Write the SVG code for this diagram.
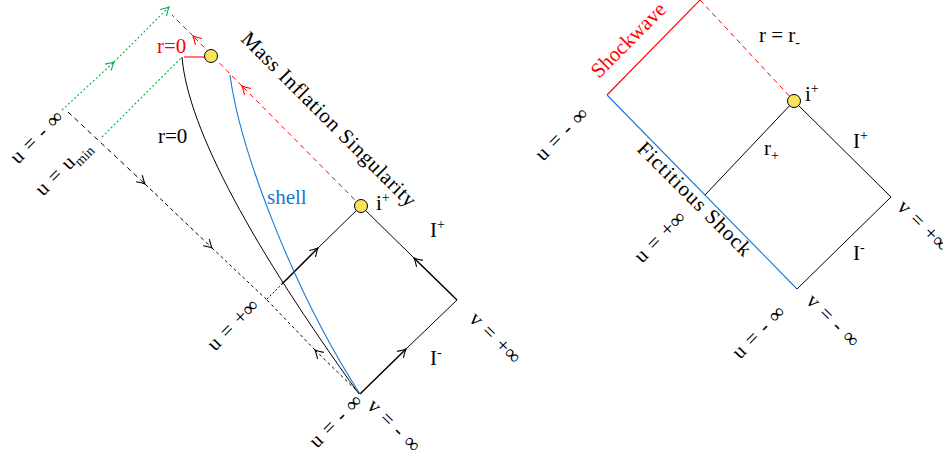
<svg xmlns="http://www.w3.org/2000/svg" width="943" height="455" viewBox="0 0 943 455">
<style>
text{font-family:"Liberation Serif","Times New Roman",serif;font-size:21px;fill:#000}
.red{fill:#ff0000}
.blue{fill:#1a78d2}
.ln{fill:none;stroke:#000;stroke-width:1}
.thick{fill:none;stroke:#000;stroke-width:1.5}
.dk{fill:none;stroke:#000;stroke-width:1}
.grn{fill:none;stroke:#00b04a;stroke-width:1.1;stroke-dasharray:2 2.2}
.rd{fill:none;stroke:#ff0000;stroke-width:1;stroke-dasharray:5 4}
.rs{fill:none;stroke:#ff0000;stroke-width:1.1}
.bl{fill:none;stroke:#1a78d2;stroke-width:1.1}
.pt{fill:#f8e45c;stroke:#000;stroke-width:1}
.sup{font-size:14px}
</style>
<defs>
<marker id="ak" viewBox="-10 -6 12 12" refX="0" refY="0" markerWidth="12" markerHeight="12" markerUnits="userSpaceOnUse" orient="auto"><path d="M-8,-4.5 Q-3,-1.2 0,0 Q-3,1.2 -8,4.5" fill="none" stroke="#000" stroke-width="1.1"/></marker>
<marker id="ar" viewBox="-10 -6 12 12" refX="0" refY="0" markerWidth="12" markerHeight="12" markerUnits="userSpaceOnUse" orient="auto"><path d="M-8,-4.5 Q-3,-1.2 0,0 Q-3,1.2 -8,4.5" fill="none" stroke="#ff0000" stroke-width="1.1"/></marker>
<marker id="ag" viewBox="-10 -6 12 12" refX="0" refY="0" markerWidth="12" markerHeight="12" markerUnits="userSpaceOnUse" orient="auto"><path d="M-8,-4.5 Q-3,-1.2 0,0 Q-3,1.2 -8,4.5" fill="none" stroke="#00b04a" stroke-width="1.1"/></marker>
</defs>

<g id="connectors">
  <!-- left diagram -->
  <g id="left-square">
    <path class="dk" d="M267,299 L282,284" stroke-dasharray="2 2"/>
    <path class="thick" d="M282,284 L318,248" marker-end="url(#ak)"/>
    <path class="ln" d="M318,248 L361,206"/>
    <path class="thick" d="M360,394 L406,349" marker-end="url(#ak)"/>
    <path class="ln" d="M406,349 L457,300"/>
    <path class="thick" d="M457,300 L414,258" marker-end="url(#ak)"/>
    <path class="ln" d="M414,258 L361,206"/>
  </g>
  <g id="black-dashed">
    <path class="dk" d="M68,112 L145,184" stroke-dasharray="5 4" marker-end="url(#ak)"/>
    <path class="dk" d="M145,184 L212,248" stroke-dasharray="4 3" marker-end="url(#ak)"/>
    <path class="dk" d="M212,248 L267,300" stroke-dasharray="3 3"/>
    <path class="dk" d="M360,394 L315,350" stroke-dasharray="3 3" marker-end="url(#ak)"/>
    <path class="dk" d="M315,350 L267,300" stroke-dasharray="3 3"/>
  </g>
  <g id="green-rays">
    <path class="grn" d="M62,110 L114,62" marker-end="url(#ag)"/>
    <path class="grn" d="M114,62 L169,7" marker-end="url(#ag)"/>
    <path class="grn" d="M102,137 L182,57"/>
  </g>
  <g id="red-horizon">
    <path class="rd" d="M361,206 L242,86" marker-end="url(#ar)"/>
    <path class="rd" d="M242,86 L193,36" marker-end="url(#ar)"/>
    <path class="rd" d="M193,36 L172,15"/>
    <path class="rs" d="M184,57 L205,57"/>
  </g>
  <path id="r0-curve" class="ln" d="M182,57 C188,130 255,250 359,394"/>
  <path id="shell-curve" class="bl" d="M230,75 C240,150 293,290 360,394"/>

  <!-- right diagram -->
  <g id="right-lines">
    <path class="rs" d="M607,95 L702,-2"/>
    <path class="rd" d="M700,0 L794,101" stroke-dasharray="6 4"/>
    <path class="bl" d="M607,95 L797,289"/>
    <path class="ln" d="M797,289 L891,197"/>
    <path class="ln" d="M891,197 L794,101"/>
    <path class="ln" d="M794,101 L705,195"/>
  </g>
</g>

<g id="point-left-top"><circle class="pt" cx="211" cy="56" r="6.5"/></g>
<g id="point-left-iplus"><circle class="pt" cx="361" cy="206" r="6.5"/></g>
<g id="point-right-iplus"><circle class="pt" cx="794" cy="101" r="6.5"/></g>

<g id="labels-left">
  <text class="red" x="157" y="53">r=0</text>
  <text x="158" y="143">r=0</text>
  <text class="blue" x="267" y="204">shell</text>
  <text x="376" y="210">i<tspan class="sup" dy="-8">+</tspan></text>
  <text x="430" y="237">I<tspan class="sup" dy="-8">+</tspan></text>
  <text x="430" y="365">I<tspan class="sup" dy="-8">-</tspan></text>
  <text x="240" y="40" transform="rotate(45 240 40)" font-size="22" textLength="238" lengthAdjust="spacing">Mass Inflation Singularity</text>
  <text x="18" y="165" transform="rotate(-45 18 165)" word-spacing="2">u = - ∞</text>
  <text x="43" y="197" transform="rotate(-45 43 197)" word-spacing="2">u = u<tspan class="sup" dy="5">min</tspan></text>
  <text x="215" y="352" transform="rotate(-45 215 352)" word-spacing="2">u = +∞</text>
  <text x="317" y="449" transform="rotate(-45 317 449)" word-spacing="2">u = - ∞</text>
  <text x="366" y="407" transform="rotate(45 366 407)" word-spacing="2">v = - ∞</text>
  <text x="468" y="320" transform="rotate(45 468 320)" word-spacing="2">v = +∞</text>
</g>

<g id="labels-right">
  <text class="red" x="599" y="79" transform="rotate(-45 599 79)" font-size="22">Shockwave</text>
  <text x="759" y="42">r = r<tspan class="sup" dy="5">-</tspan></text>
  <text x="805" y="101">i<tspan class="sup" dy="-8">+</tspan></text>
  <text x="853" y="148">I<tspan class="sup" dy="-8">+</tspan></text>
  <text x="764" y="155">r<tspan class="sup" dy="5">+</tspan></text>
  <text x="853" y="260">I<tspan class="sup" dy="-8">-</tspan></text>
  <text x="636" y="150" transform="rotate(45 636 150)" font-size="22" textLength="152" lengthAdjust="spacing">Fictitious Shock</text>
  <text x="543" y="162" transform="rotate(-45 543 162)" word-spacing="2">u = - ∞</text>
  <text x="642" y="264" transform="rotate(-45 642 264)" word-spacing="2">u = +∞</text>
  <text x="740" y="360" transform="rotate(-45 740 360)" word-spacing="2">u = - ∞</text>
  <text x="896" y="208" transform="rotate(45 896 208)" word-spacing="2">v = +∞</text>
  <text x="805" y="302" transform="rotate(45 805 302)" word-spacing="2">v = - ∞</text>
</g>
</svg>
